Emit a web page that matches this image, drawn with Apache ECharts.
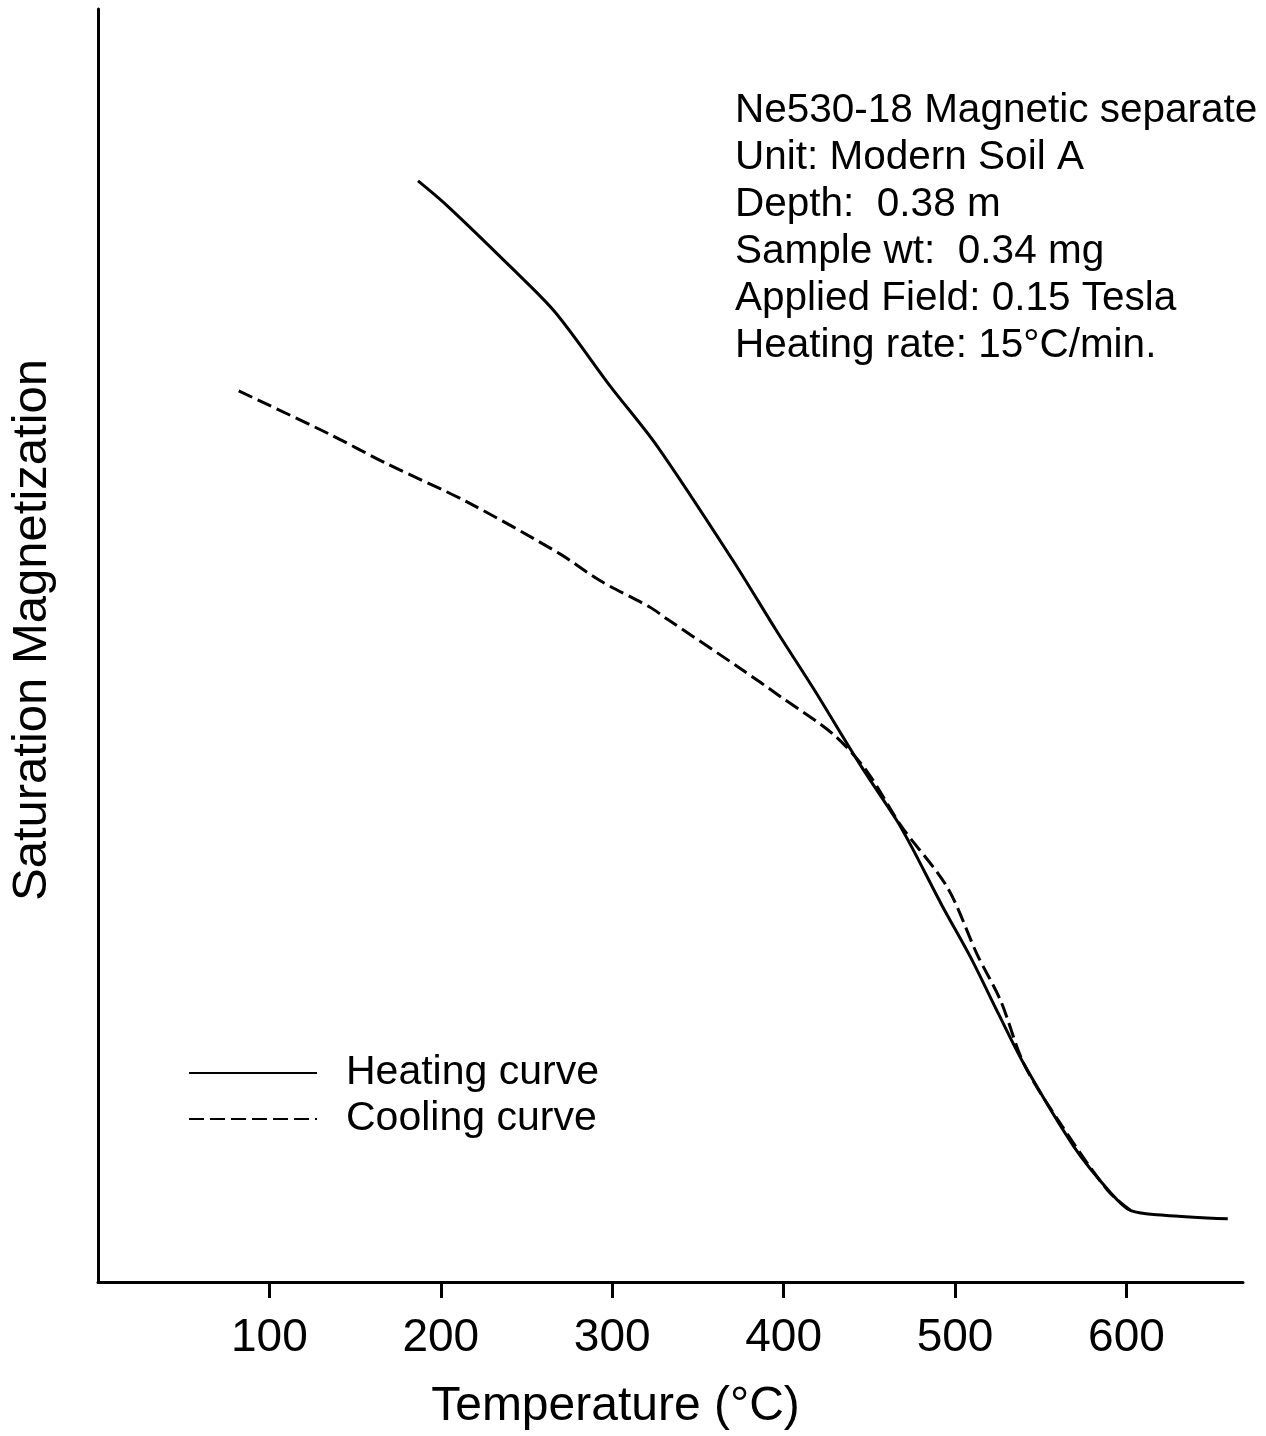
<!DOCTYPE html>
<html>
<head>
<meta charset="utf-8">
<title>Saturation magnetization</title>
<script src="https://cdn.jsdelivr.net/npm/echarts@6/dist/echarts.min.js"></script>
<style>
  html, body { margin: 0; padding: 0; background: #fff; }
  #chart { width: 1266px; height: 1436px; }
</style>
</head>
<body>
<div id="chart"></div>
<script>
// temperature (°C) and relative magnetization
const heatT = [186.7, 203.3, 240.3, 266.6, 298.7, 326.0, 370.8, 396.1, 417.5, 444.8, 466.3, 475.0, 492.3, 509.1, 525.6, 540.3, 569.5, 590.9, 602.6, 621.9, 659.1]
const heatM = [86.5, 84.6, 79.8, 76.2, 70.4, 65.7, 56.6, 51.1, 46.6, 40.6, 36.2, 34.1, 29.6, 25.5, 21.0, 17.1, 10.6, 7.0, 5.6, 5.25, 4.96]
const coolT = [82.1, 135.1, 168.2, 215.0, 269.5, 292.8, 322.1, 331.8, 374.7, 398.0, 429.2, 448.7, 468.2, 495.5, 513.0, 526.6, 540.3, 561.7, 589.0, 602.6]
const coolM = [70.0, 66.6, 64.3, 61.3, 57.2, 55.1, 53.0, 52.1, 48.2, 46.0, 43.0, 40.1, 35.9, 31.0, 25.7, 22.1, 17.1, 12.4, 7.2, 5.6]
const xTicks = [100, 200, 300, 400, 500, 600]
const infoLines = [
  'Ne530-18 Magnetic separate',
  'Unit: Modern Soil A',
  'Depth:  0.38 m',
  'Sample wt:  0.34 mg',
  'Applied Field: 0.15 Tesla',
  'Heating rate: 15°C/min.'
]

const font = '"Liberation Sans", Arial, sans-serif'
const pairs = (xs, ys) => xs.map((x, i) => [x, ys[i]])

const chart = echarts.init(document.getElementById('chart'))
const option = {
  backgroundColor: '#fff',
  animation: false,
  grid: { left: 98, right: 23, top: 9, bottom: 151 },
  legend: {
    orient: 'vertical',
    left: 183,
    top: 1045,
    itemWidth: 128,
    itemHeight: 20,
    itemGap: 0,
    itemStyle: { opacity: 0 },
    textStyle: { fontFamily: font, fontSize: 41, color: '#000', lineHeight: 46, padding: [0, 0, 0, 24] },
    data: ['Heating curve', 'Cooling curve']
  },
  xAxis: {
    type: 'value',
    min: 0,
    max: 668,
    interval: 100,
    splitLine: { show: false },
    axisLine: { lineStyle: { color: '#000', width: 3 } },
    axisTick: { customValues: xTicks, length: 16, lineStyle: { color: '#000', width: 3 } },
    axisLabel: { customValues: xTicks, margin: 33, fontFamily: font, fontSize: 46, color: '#000' },
    name: 'Temperature (°C)',
    nameLocation: 'middle',
    nameGap: 101,
    nameTextStyle: { fontFamily: font, fontSize: 48, color: '#000', padding: [0, 110, 0, 0] }
  },
  yAxis: {
    type: 'value',
    min: 0,
    max: 100,
    splitLine: { show: false },
    axisLine: { show: true, lineStyle: { color: '#000', width: 3 } },
    axisTick: { show: false },
    axisLabel: { show: false }
  },
  graphic: [
    {
      type: 'text',
      left: 735,
      top: 87,
      style: {
        text: infoLines.join('\n'),
        font: '40.5px ' + font,
        lineHeight: 47,
        fill: '#000'
      }
    },
    {
      type: 'text',
      x: 32,
      y: 630,
      rotation: Math.PI / 2,
      style: {
        text: 'Saturation Magnetization',
        font: '49px ' + font,
        fill: '#000',
        align: 'center',
        verticalAlign: 'middle'
      }
    }
  ],
  series: [
    {
      name: 'Heating curve',
      type: 'line',
      smooth: 0.3,
      symbol: 'none',
      lineStyle: { color: '#000', width: 3 },
      itemStyle: { color: '#000' },
      data: pairs(heatT, heatM)
    },
    {
      name: 'Cooling curve',
      type: 'line',
      smooth: 0.3,
      symbol: 'none',
      lineStyle: { color: '#000', width: 3, type: [15, 6] },
      itemStyle: { color: '#000' },
      data: pairs(coolT, coolM)
    }
  ]
}
chart.setOption(option)
</script>
</body>
</html>
